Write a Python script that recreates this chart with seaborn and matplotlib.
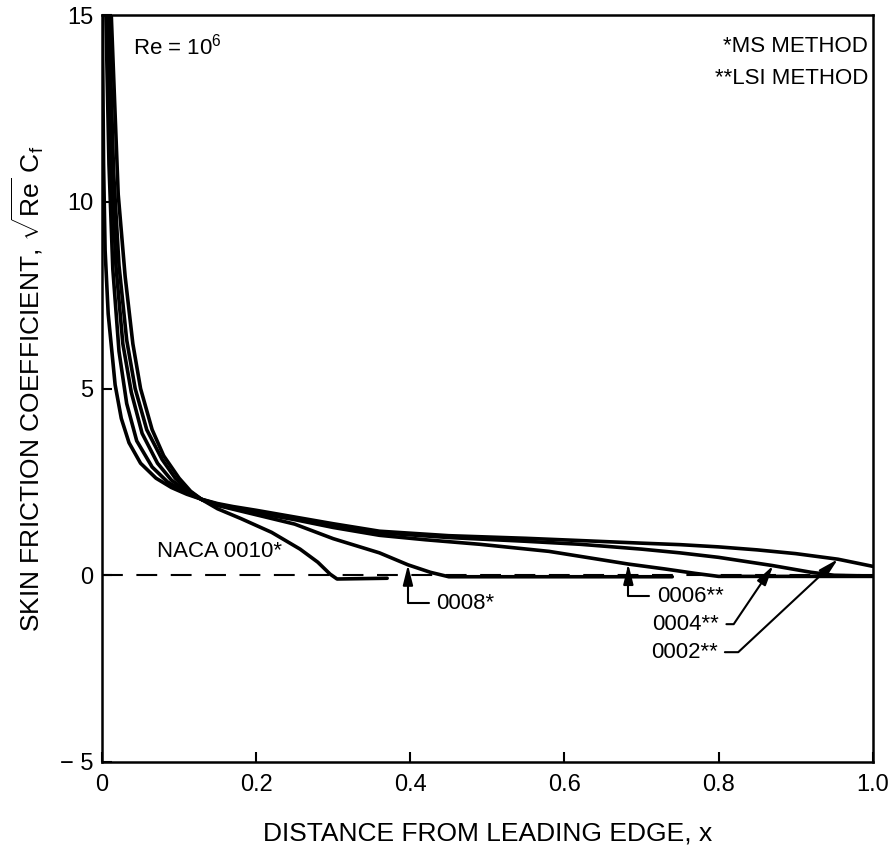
import numpy as np
import pandas as pd
import matplotlib
matplotlib.use("Agg")
import matplotlib.pyplot as plt
import seaborn as sns

# ---- data ----
x_0002 = [0.0, 0.002, 0.004, 0.008, 0.017, 0.025, 0.035, 0.05, 0.07, 0.09, 0.11, 0.13, 0.15, 0.17, 0.2, 0.25, 0.3, 0.36, 0.45, 0.55, 0.62, 0.7, 0.75, 0.8, 0.85, 0.9, 0.955, 1.0]
y_0002 = [16.0, 11.0, 8.7, 7.0, 5.1, 4.2, 3.55, 3.0, 2.6, 2.35, 2.17, 2.03, 1.92, 1.84, 1.74, 1.56, 1.38, 1.18, 1.06, 0.99, 0.93, 0.86, 0.82, 0.76, 0.68, 0.58, 0.43, 0.24]

x_0004 = [0.0, 0.005, 0.009, 0.014, 0.022, 0.032, 0.045, 0.065, 0.085, 0.11, 0.13, 0.15, 0.17, 0.2, 0.25, 0.3, 0.36, 0.45, 0.55, 0.62, 0.7, 0.75, 0.8, 0.87, 0.92, 0.95, 1.0]
y_0004 = [17.0, 15.0, 11.0, 8.2, 6.0, 4.6, 3.6, 2.9, 2.5, 2.2, 2.03, 1.9, 1.81, 1.7, 1.53, 1.34, 1.14, 1.01, 0.91, 0.83, 0.7, 0.6, 0.48, 0.26, 0.08, 0.0, -0.02]

x_0006 = [0.0, 0.007, 0.012, 0.018, 0.027, 0.038, 0.052, 0.072, 0.09, 0.11, 0.13, 0.15, 0.17, 0.2, 0.25, 0.3, 0.36, 0.42, 0.49, 0.58, 0.683, 0.73, 0.77, 0.8, 1.0]
y_0006 = [17.0, 15.0, 11.0, 8.3, 6.2, 4.9, 3.8, 3.0, 2.55, 2.25, 2.02, 1.88, 1.79, 1.67, 1.49, 1.28, 1.07, 0.95, 0.83, 0.64, 0.3, 0.17, 0.05, -0.03, -0.03]

x_0008 = [0.0, 0.009, 0.015, 0.022, 0.032, 0.043, 0.058, 0.078, 0.095, 0.11, 0.13, 0.15, 0.17, 0.2, 0.25, 0.3, 0.36, 0.397, 0.426, 0.45, 0.74]
y_0008 = [17.5, 15.0, 10.8, 8.3, 6.3, 5.0, 3.9, 3.1, 2.6, 2.3, 2.02, 1.87, 1.77, 1.62, 1.37, 0.98, 0.6, 0.28, 0.08, -0.04, -0.04]

x_0010 = [0.0, 0.012, 0.021, 0.03, 0.04, 0.05, 0.065, 0.08, 0.1, 0.115, 0.13, 0.15, 0.18, 0.22, 0.257, 0.28, 0.296, 0.305, 0.37]
y_0010 = [18.0, 15.0, 10.2, 8.0, 6.2, 5.0, 3.9, 3.2, 2.6, 2.25, 2.02, 1.78, 1.52, 1.15, 0.7, 0.35, 0.03, -0.1, -0.08]

zero_x = [0.0, 1.0]
zero_y = [0.0, 0.0]

x_ticks = [0.0, 0.2, 0.4, 0.6, 0.8, 1.0]
x_ticklabels = ["0", "0.2", "0.4", "0.6", "0.8", "1.0"]
y_ticks = [-5, 0, 5, 10, 15]
y_ticklabels = ["\u2212 5", "0", "5", "10", "15"]

profiles = ["0002", "0004", "0006", "0008", "0010"]
xs = [x_0002, x_0004, x_0006, x_0008, x_0010]
ys = [y_0002, y_0004, y_0006, y_0008, y_0010]

# annotation labels, arrow targets (on curves) and label anchors
ann_text = ["0008*", "0006**", "0004**", "0002**"]
ann_xy = [(0.397, 0.28), (0.683, 0.30), (0.871, 0.26), (0.955, 0.43)]
ann_xytext = [(0.434, -0.75), (0.720, -0.56), (0.714, -1.31), (0.712, -2.06)]
ann_angleB = [90, 90, 56, 43]

df = pd.concat(
    [pd.DataFrame({"x": x, "y": y, "profile": p}) for p, x, y in zip(profiles, xs, ys)],
    ignore_index=True,
)
df_zero = pd.DataFrame({"x": zero_x, "y": zero_y})

# ---- style ----
sns.set_theme(style="ticks")
plt.rcParams["font.family"] = ["Liberation Sans", "DejaVu Sans"]
plt.rcParams["mathtext.fontset"] = "custom"
plt.rcParams["mathtext.rm"] = "Liberation Sans"
plt.rcParams["mathtext.it"] = "Liberation Sans:italic"
plt.rcParams["mathtext.bf"] = "Liberation Sans:bold"

fig = plt.figure(figsize=(8.95, 8.47), dpi=100)
ax = fig.add_axes([0.114, 0.1004, 0.861, 0.8817])

sns.lineplot(data=df_zero, x="x", y="y", ax=ax, color="black", lw=1.5,
             linestyle=(0, (10, 6.5)), sort=False)
sns.lineplot(data=df, x="x", y="y", units="profile", estimator=None, ax=ax,
             color="black", lw=2.6, sort=False)

ax.set_xlim(0, 1.0)
ax.set_ylim(-5, 15)
ax.set_xticks(x_ticks)
ax.set_xticklabels(x_ticklabels)
ax.set_yticks(y_ticks)
ax.set_yticklabels(y_ticklabels)
ax.tick_params(direction="in", length=7, width=1.5, labelsize=17, colors="black",
               top=False, right=False)
ax.tick_params(axis="x", pad=9)
ax.tick_params(axis="y", pad=6)
for s in ax.spines.values():
    s.set_visible(True)
    s.set_linewidth(1.8)
    s.set_color("black")

ax.set_xlabel("DISTANCE FROM LEADING EDGE, x", fontsize=19, labelpad=18, color="black")
ax.set_ylabel(r"SKIN FRICTION COEFFICIENT, $\sqrt{\mathrm{Re}}\ \mathrm{C_f}$",
              fontsize=19, labelpad=10, color="black")

# texts
ax.text(0.04, 14.15, r"Re = 10$^{6}$", fontsize=16, ha="left", va="center", color="black")
ax.text(0.994, 14.15, "*MS METHOD", fontsize=16, ha="right", va="center", color="black")
ax.text(0.994, 13.3, "**LSI METHOD", fontsize=16, ha="right", va="center", color="black")
ax.text(0.071, 0.64, "NACA 0010*", fontsize=16, ha="left", va="center", color="black")

for t, xy, xyt, aB in zip(ann_text, ann_xy, ann_xytext, ann_angleB):
    ax.annotate(t, xy=xy, xytext=xyt, fontsize=16, ha="left", va="center", color="black",
                arrowprops=dict(arrowstyle="-|>,head_length=1.0,head_width=0.25",
                                connectionstyle=f"angle,angleA=0,angleB={aB},rad=0",
                                color="black", lw=1.5, shrinkA=3, shrinkB=0,
                                mutation_scale=12))

fig.savefig("out.png", dpi=100, facecolor="white")
